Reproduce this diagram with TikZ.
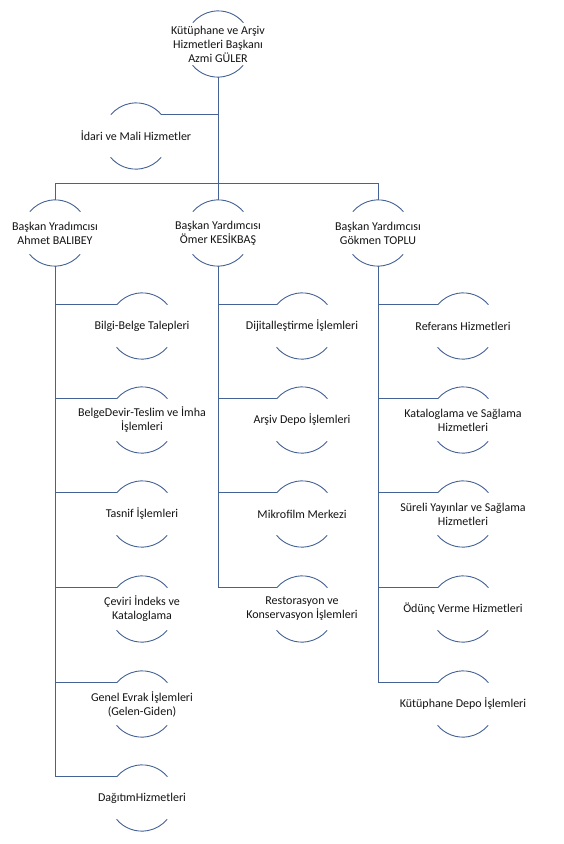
\documentclass[tikz,border=0pt]{standalone}
\usepackage{fontspec}
\setmainfont{Carlito}
\definecolor{ln}{RGB}{68,98,150}
\definecolor{tx}{RGB}{20,20,20}
\newcommand\ringarcs[1]{\draw[ringarc] (#1.40) arc[start angle=40,end angle=140,radius=33pt] (#1.220) arc[start angle=220,end angle=320,radius=33pt];}
\tikzset{
  ring/.style={circle, minimum size=66pt, inner sep=0pt, draw=none},
  lbl/.style={align=center, text=tx, font=\fontsize{12pt}{14pt}\selectfont, inner sep=0pt},
  ringarc/.style={draw=ln, line width=0.9pt},
  conn/.style={draw=ln, line width=0.9pt},
}
\begin{document}
\begin{tikzpicture}[x=1pt,y=1pt]
\useasboundingbox[fill=white] (0,0) rectangle (564,-844);
% top
\node[ring, label={[lbl,name=topt]center:Kütüphane ve Arşiv\\Hizmetleri Başkanı\\Azmi GÜLER}] (top) at (218,-44) {};
\node[ring, label={[lbl,name=idarit]center:İdari ve Mali Hizmetler}] (idari) at (136,-136) {};
% level 2
\node[ring, label={[lbl,name=Lt]center:Başkan Yradımcısı\\Ahmet BALIBEY}] (L) at (55,-233) {};
\node[ring, label={[lbl,name=Mt]center:Başkan Yardımcısı\\Ömer KESİKBAŞ}] (M) at (218,-233) {};
\node[ring, label={[lbl,name=Rt]center:Başkan Yardımcısı\\Gökmen TOPLU}] (R) at (378,-233) {};
% left children
\node[ring, label={[lbl,name=l1t]center:Bilgi-Belge Talepleri}] (l1) at (142,-326) {};
\node[ring, label={[lbl,name=l2t]center:BelgeDevir-Teslim ve İmha\\İşlemleri}] (l2) at (142,-420) {};
\node[ring, label={[lbl,name=l3t]center:Tasnif İşlemleri}] (l3) at (142,-514) {};
\node[ring, label={[lbl,name=l4t]center:Çeviri İndeks ve\\Kataloglama}] (l4) at (142,-609) {};
\node[ring, label={[lbl,name=l5t]center:Genel Evrak İşlemleri\\(Gelen-Giden)}] (l5) at (142,-704) {};
\node[ring, label={[lbl,name=l6t]center:DağıtımHizmetleri}] (l6) at (142,-798) {};
% middle children
\node[ring, label={[lbl,name=m1t]center:Dijitalleştirme İşlemleri}] (m1) at (302,-326) {};
\node[ring, label={[lbl,name=m2t]center:Arşiv Depo İşlemleri}] (m2) at (302,-420) {};
\node[ring, label={[lbl,name=m3t]center:Mikrofilm Merkezi}] (m3) at (302,-514) {};
\node[ring, label={[lbl,name=m4t]center:Restorasyon ve\\Konservasyon İşlemleri}] (m4) at (302,-609) {};
% right children
\node[ring, label={[lbl,name=r1t]center:Referans Hizmetleri}] (r1) at (463,-326) {};
\node[ring, label={[lbl,name=r2t]center:Kataloglama ve Sağlama\\Hizmetleri}] (r2) at (463,-420) {};
\node[ring, label={[lbl,name=r3t]center:Süreli Yayınlar ve Sağlama\\Hizmetleri}] (r3) at (463,-514) {};
\node[ring, label={[lbl,name=r4t]center:Ödünç Verme Hizmetleri}] (r4) at (463,-609) {};
\node[ring, label={[lbl,name=r5t]center:Kütüphane Depo İşlemleri}] (r5) at (463,-704) {};
% arcs
\foreach \n in {top,idari,L,M,R,l1,l2,l3,l4,l5,l6,m1,m2,m3,m4,r1,r2,r3,r4,r5} {\ringarcs{\n}}
% connectors
\coordinate (bar) at (218,-183);
\draw[conn] (top.south) |- (idari.40);
\draw[conn] (top.south) -- (bar);
\draw[conn] (bar) -| (L.north);
\draw[conn] (bar) -- (M.north);
\draw[conn] (bar) -| (R.north);
\foreach \c in {l1,l2,l3,l4,l5,l6} {\draw[conn] (L.south) |- (\c.140);}
\foreach \c in {m1,m2,m3,m4} {\draw[conn] (M.south) |- (\c.140);}
\foreach \c in {r1,r2,r3,r4,r5} {\draw[conn] (R.south) |- (\c.140);}
\end{tikzpicture}
\end{document}
